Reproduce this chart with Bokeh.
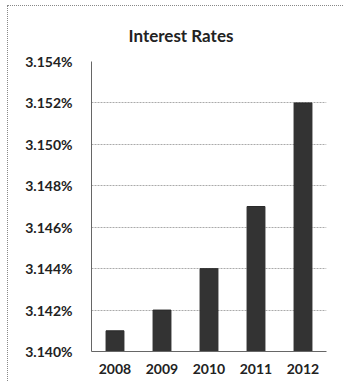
from bokeh.plotting import figure
from bokeh.models import FixedTicker, PrintfTickFormatter, ColumnDataSource, Title
from bokeh.embed import file_html
from bokeh.resources import INLINE

years = ["2008", "2009", "2010", "2011", "2012"]
rates = [3.141, 3.142, 3.144, 3.147, 3.152]
y_ticks = [3.140, 3.142, 3.144, 3.146, 3.148, 3.150, 3.152, 3.154]
title_text = "Interest Rates"
base = 3.140

src = ColumnDataSource(dict(year=years, rate=rates, base=[base] * len(years)))

p = figure(width=336, height=376, x_range=years, y_range=(3.140, 3.154),
           output_backend="svg", toolbar_location=None,
           min_border_left=83, min_border_right=18, min_border_top=54, min_border_bottom=31)
p.margin = (5, 0, 0, 7)
p.styles = {"border-top": "1px dotted #888888", "border-left": "1px dotted #888888"}
p.outline_line_color = None
p.background_fill_color = "white"
p.border_fill_color = "white"

p.title = Title(text=title_text, align="left", offset=37, standoff=32,
                text_font="Lato", text_font_style="bold", text_font_size="17px",
                text_color="#222222")

p.vbar(x="year", top="rate", bottom="base", width=0.38, source=src,
       fill_color="#333333", line_color="#2a2a2a")

p.yaxis.ticker = FixedTicker(ticks=y_ticks)
p.yaxis.formatter = PrintfTickFormatter(format="%.3f%%")
p.yaxis.major_label_text_font = "Lato"
p.yaxis.major_label_text_font_style = "bold"
p.yaxis.major_label_text_font_size = "14px"
p.yaxis.major_label_text_color = "#222222"
p.yaxis.axis_line_color = "#666666"
p.yaxis.major_tick_line_color = None
p.yaxis.minor_tick_line_color = None
p.yaxis.major_label_standoff = 13

p.xaxis.major_label_text_font = "Lato"
p.xaxis.major_label_text_font_style = "bold"
p.xaxis.major_label_text_font_size = "14px"
p.xaxis.major_label_text_color = "#222222"
p.xaxis.axis_line_color = "#666666"
p.xaxis.major_tick_line_color = None
p.xaxis.major_label_standoff = 6

p.xgrid.grid_line_color = None
p.ygrid.grid_line_color = "#aaaaaa"
p.ygrid.grid_line_dash = "2 1"

open("out.html", "w").write(file_html(p, INLINE))
